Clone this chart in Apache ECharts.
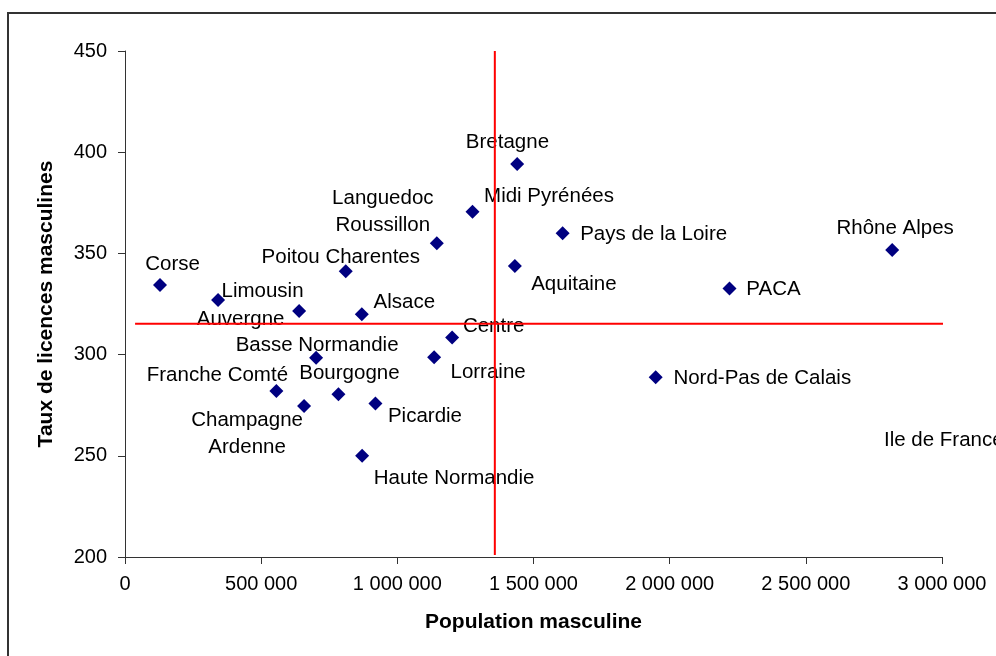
<!DOCTYPE html>
<html>
<head>
<meta charset="utf-8">
<script src="https://cdn.jsdelivr.net/npm/echarts@6/dist/echarts.min.js"></script>
<style>
html,body{margin:0;padding:0;background:#fff;}
#chart{width:996px;height:656px;}
</style>
</head>
<body>
<div id="chart"></div>
<script>
// ---- data ----
const regions = ['Corse','Limousin','Auvergne','Poitou Charentes','Alsace','Languedoc\nRoussillon','Midi Pyrénées','Bretagne','Aquitaine','Centre','Lorraine','Basse Normandie','Franche Comté','Champagne\nArdenne','Bourgogne','Picardie','Haute Normandie','Pays de la Loire','Rhône Alpes','PACA','Nord-Pas de Calais'];
const population = [128600, 341700, 639300, 810700, 869500, 1145000, 1276000, 1440000, 1431700, 1201300, 1135000, 701700, 555900, 657600, 783700, 919700, 870700, 1607000, 2817000, 2219700, 1948600];
const taux = [334.4, 327.0, 321.5, 341.2, 319.9, 355.0, 370.6, 394.2, 343.8, 308.4, 298.7, 298.5, 282.0, 274.6, 280.4, 275.9, 250.0, 359.9, 351.7, 332.6, 288.8];
// label-only entry (marker outside plotted range)
const ileDeFrance = { name: 'Ile de France', population: 2787000, taux: 258.8 };
// mean lines
const meanPopulation = 1358000;
const meanTaux = 315.3;
const xTicks = [0, 500000, 1000000, 1500000, 2000000, 2500000, 3000000];
const yTicks = [200, 250, 300, 350, 400, 450];

// ---- label placement (styling) ----
const labelOffsets = {
  'Corse':[12.5,-23], 'Limousin':[44.5,-11], 'Auvergne':[-58.5,6], 'Poitou Charentes':[-5,-16],
  'Alsace':[42.5,-14], 'Languedoc\nRoussillon':[-54,-33], 'Midi Pyrénées':[76.5,-17],
  'Bretagne':[-9.7,-24], 'Aquitaine':[59,16], 'Centre':[41.5,-13], 'Lorraine':[54,13.4],
  'Basse Normandie':[1,-14.4], 'Franche Comté':[-59,-18], 'Champagne\nArdenne':[-57,26],
  'Bourgogne':[11,-22.6], 'Picardie':[49.5,10.7], 'Haute Normandie':[92,21],
  'Pays de la Loire':[91,-1], 'Rhône Alpes':[3,-24], 'PACA':[44,-1.4], 'Nord-Pas de Calais':[106.6,-0.6]
};
const labelShiftY = 2;

const FONT = 'Liberation Sans, Arial, sans-serif';
const fmt = v => String(v).replace(/\B(?=(\d{3})+(?!\d))/g, ' ');

const points = regions.map((r, i) => ({
  name: r,
  value: [population[i], taux[i]],
  label: { offset: [labelOffsets[r][0], labelOffsets[r][1] + labelShiftY] }
}));
points.push({
  name: ileDeFrance.name,
  value: [ileDeFrance.population, ileDeFrance.taux],
  symbolSize: 0,
  label: { position: 'inside', align: 'left', offset: [0, labelShiftY] }
});

const chart = echarts.init(document.getElementById('chart'), null, { renderer: 'canvas' });
chart.setOption({
  animation: false,
  backgroundColor: '#fff',
  grid: { left: 125, right: 54, top: 51, bottom: 99 },
  xAxis: {
    type: 'value', min: xTicks[0], max: xTicks[xTicks.length-1], interval: 500000,
    name: 'Population masculine', nameLocation: 'middle', nameGap: 55,
    nameTextStyle: { fontFamily: FONT, fontSize: 21, fontWeight: 'bold', color: '#000' },
    axisLine: { show: true, lineStyle: { color: '#333', width: 1 } },
    axisTick: { show: true, length: 7, lineStyle: { color: '#333' } },
    axisLabel: { margin: 17, fontFamily: FONT, fontSize: 20, color: '#000', formatter: fmt },
    splitLine: { show: false }
  },
  yAxis: {
    type: 'value', min: yTicks[0], max: yTicks[yTicks.length-1], interval: 50,
    name: 'Taux de licences masculines', nameLocation: 'middle', nameGap: 68,
    nameTextStyle: { fontFamily: FONT, fontSize: 21, fontWeight: 'bold', color: '#000' },
    axisLine: { show: true, lineStyle: { color: '#333', width: 1 } },
    axisTick: { show: true, length: 7, lineStyle: { color: '#333' } },
    axisLabel: { margin: 18, fontFamily: FONT, fontSize: 20, color: '#000' },
    splitLine: { show: false }
  },
  graphic: [{
    type: 'rect', silent: true, z: -1,
    shape: { x: 8, y: 13, width: 1200, height: 1000 },
    style: { fill: 'none', stroke: '#333', lineWidth: 2 }
  }],
  series: [
    {
      type: 'scatter', symbol: 'diamond', symbolSize: 14, clip: false,
      itemStyle: { color: '#000080', opacity: 1 },
      label: {
        show: true, position: 'inside', align: 'center', verticalAlign: 'middle',
        formatter: p => p.name, fontFamily: FONT, fontSize: 20.5, color: '#000',
        textBorderWidth: 0, textBorderColor: 'transparent', lineHeight: 27
      },
      data: points, z: 2
    },
    {
      type: 'line', name: 'meanTaux', symbol: 'none', clip: false, silent: true,
      data: [[37000, meanTaux], [3050000, meanTaux]],
      lineStyle: { color: '#ff0000', width: 2 }, z: 5, zlevel: 0
    },
    {
      type: 'line', name: 'meanPopulation', symbol: 'none', clip: false, silent: true,
      data: [[meanPopulation, 201], [meanPopulation, 450]],
      lineStyle: { color: '#ff0000', width: 2 }, z: 5, zlevel: 0
    }
  ]
});
</script>
</body>
</html>
